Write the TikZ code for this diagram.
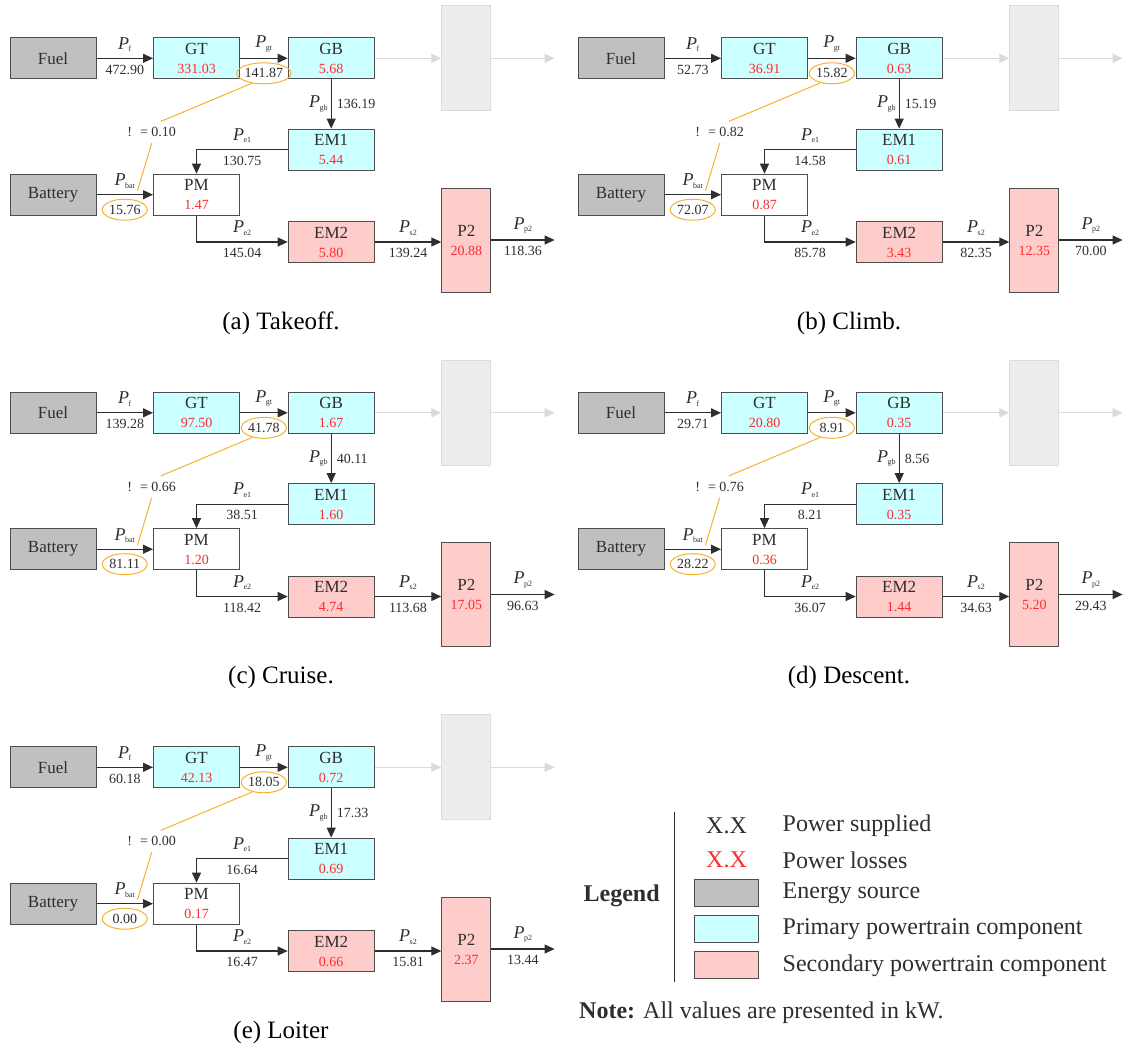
\documentclass[tikz,border=0pt]{standalone}
\usepackage{fontspec}
\setmainfont{Liberation Serif}
\usetikzlibrary{arrows.meta,shapes.geometric,calc}
\definecolor{SrcFill}{HTML}{C0C0C0}
\definecolor{PriFill}{HTML}{CCFFFF}
\definecolor{SecFill}{HTML}{FFCCCC}
\definecolor{BoxBord}{HTML}{4D4D4D}
\definecolor{Ink}{HTML}{2E2E2E}
\definecolor{LossRed}{HTML}{FF2B2B}
\definecolor{GhostFill}{HTML}{ECEDED}
\definecolor{GhostBord}{HTML}{DCDCDC}
\definecolor{GhostLine}{HTML}{DADADA}
\definecolor{RingOra}{HTML}{F5B22E}
\newcommand{\fs}[1]{\fontsize{#1}{#1}\selectfont}
\newcommand{\pw}[1]{\textit{P}\kern-0.5pt\raisebox{-2.5pt}{\fontsize{8}{8}\selectfont #1}}
\tikzset{
  blk/.style={rectangle, draw=BoxBord, line width=1pt, minimum width=86pt,
              minimum height=41pt, inner sep=0pt, align=center, text=Ink,
              font=\fontsize{17}{19}\selectfont},
  src/.style={blk, fill=SrcFill},
  pri/.style={blk, fill=PriFill},
  sec/.style={blk, fill=SecFill},
  pmb/.style={blk, fill=white},
  ghost/.style={rectangle, draw=GhostBord, fill=GhostFill, line width=1pt,
                minimum width=49pt, minimum height=105pt},
  flow/.style={-{Triangle[length=10pt,width=9pt]}, line width=1.1pt, draw=Ink},
  dimflow/.style={flow, draw=GhostLine},
  pfont/.style={inner sep=2pt, font=\fs{18}, text=Ink},
  numb/.style={inner sep=2pt, font=\fs{14}, text=Ink},
  plab/.style={pfont, above=4pt},
  pside/.style={pfont, left=1pt},
  vlab/.style={numb, below=4pt},
  vside/.style={numb, right=3pt},
  ring/.style={ellipse, draw=RingOra, line width=1pt, minimum width=45pt,
               minimum height=21pt, inner sep=0pt},
  tie/.style={draw=RingOra, line width=1pt},
  capt/.style={font=\fs{25}, text=black},
  ltxt/.style={font=\fs{24}, text=Ink},
}

\begin{document}
\begin{tikzpicture}[x=1pt,y=-1pt]
\useasboundingbox (0,0) rectangle (1125,1050);

% ---------------- five flight phases ------------------------------------------------
\foreach \pn/\ox/\oy/\vF/\lGT/\vGT/\lGB/\vGB/\rat/\vEa/\lEMa/\vBat/\lPM/\vEb/\lEMb/\vS/\lPP/\vP/\cpt in {
  a/0/0/472.90/331.03/141.87/5.68/136.19/0.10/130.75/5.44/15.76/1.47/145.04/5.80/139.24/20.88/118.36/{(a) Takeoff.},
  b/568/0/52.73/36.91/15.82/0.63/15.19/0.82/14.58/0.61/72.07/0.87/85.78/3.43/82.35/12.35/70.00/{(b) Climb.},
  c/0/354.5/139.28/97.50/41.78/1.67/40.11/0.66/38.51/1.60/81.11/1.20/118.42/4.74/113.68/17.05/96.63/{(c) Cruise.},
  d/568/354.5/29.71/20.80/8.91/0.35/8.56/0.76/8.21/0.35/28.22/0.36/36.07/1.44/34.63/5.20/29.43/{(d) Descent.},
  e/0/709/60.18/42.13/18.05/0.72/17.33/0.00/16.64/0.69/0.00/0.17/16.47/0.66/15.81/2.37/13.44/{(e) Loiter}}{
\begin{scope}[shift={(\ox,\oy)}]
  % blocks
  \node[src] (fuel\pn) at (53,58.3) {Fuel};
  \node[pri] (gt\pn) at (196.5,58.3) {GT\\{\fs{14}\color{LossRed}\lGT}};
  \node[pri] (gb\pn) at (331.2,58.3) {GB\\{\fs{14}\color{LossRed}\lGB}};
  \node[ghost] (gh\pn) at (466.3,58.3) {};
  \node[pri] (em1\pn) at (331.2,149.6) {EM1\\{\fs{14}\color{LossRed}\lEMa}};
  \node[src] (bat\pn) at (53,194.7) {Battery};
  \node[pmb] (pm\pn) at (196.5,194.7) {PM\\{\fs{14}\color{LossRed}\lPM}};
  \node[sec] (em2\pn) at (331.2,242) {EM2\\{\fs{14}\color{LossRed}\lEMb}};
  \node[sec, minimum width=49pt, minimum height=104pt] (p2\pn) at (466.3,240) {P2\\{\fs{14}\color{LossRed}\lPP}};
  \coordinate (gend\pn) at (554.6,58.3);
  \coordinate (pend\pn) at (554.6,240);
  \node[numb, inner sep=6pt] (rat\pn) at (151.7,132.3) {!\hspace{8pt}=\hspace{3.5pt}\rat};
  % flows
  \draw[flow] (fuel\pn) -- node[plab] (lf\pn) {\pw{f}} node[vlab] (vf\pn) {\vF} (gt\pn);
  \draw[flow] (gt\pn) -- node[plab] (lgt\pn) {\pw{gt}} node[vlab, ring] (rgt\pn) {\vGT} (gb\pn);
  \draw[dimflow] (gb\pn) -- (gh\pn);
  \draw[dimflow] (gh\pn) -- (gend\pn);
  \draw[flow] (gb\pn) -- node[pside] (lgb\pn) {\pw{gb}} node[vside] (vgb\pn) {\vGB} (em1\pn);
  \draw[flow] (em1\pn) -| node[plab, pos=0.25] (le1\pn) {\pw{e1}} node[vlab, pos=0.25] (ve1\pn) {\vEa} (pm\pn);
  \draw[flow] (bat\pn) -- node[plab] (lbat\pn) {\pw{bat}} node[vlab, ring] (rbat\pn) {\vBat} (pm\pn);
  \draw[flow] (pm\pn) |- node[plab, pos=0.75] (le2\pn) {\pw{e2}} node[vlab, pos=0.75] (ve2\pn) {\vEb} (em2\pn);
  \draw[flow] (em2\pn) -- node[plab] (ls2\pn) {\pw{s2}} node[vlab] (vs2\pn) {\vS} (em2\pn -| p2\pn.west);
  \draw[flow] (p2\pn) -- node[plab] (lp2\pn) {\pw{p2}} node[vlab] (vp2\pn) {\vP} (pend\pn);
  % ratio tie
  \draw[tie] (rgt\pn.220) -- (rat\pn.50);
  \draw[tie] (rat\pn.south) -- (lbat\pn.south east);
  \node[capt] (cap\pn) at (281,323) {\cpt};
\end{scope}
}

% ---------------- legend ---------------------------------------------------------------
\node[font=\bfseries\fs{24}, text=Ink] (lgd) at (621.6,895.7) {Legend};
\draw[Ink, line width=1.3pt] (674.3,812.3) -- (674.3,981.7);
\node[ltxt] (k1) at (726.5,826) {X.X};
\node[ltxt, text=LossRed] (k2) at (726.5,860) {X.X};
\node[src, minimum width=64pt, minimum height=27pt] (k3) at (726.5,892.5) {};
\node[pri, minimum width=64pt, minimum height=27pt] (k4) at (726.5,928.7) {};
\node[sec, minimum width=64pt, minimum height=27pt] (k5) at (726.5,965.4) {};
\foreach \i/\yy/\t in {1/826/Power supplied, 2/860/Power losses, 3/893/Energy source,
  4/929/Primary powertrain component, 5/966/Secondary powertrain component}{
  \node[ltxt, anchor=west, inner sep=0pt] (t\i) at (782.5,\yy) {\t};
}
\node[ltxt, anchor=west, inner sep=0pt] (note) at (579,1013) {\textbf{Note:} All values are presented in kW.};

\end{tikzpicture}
\end{document}
